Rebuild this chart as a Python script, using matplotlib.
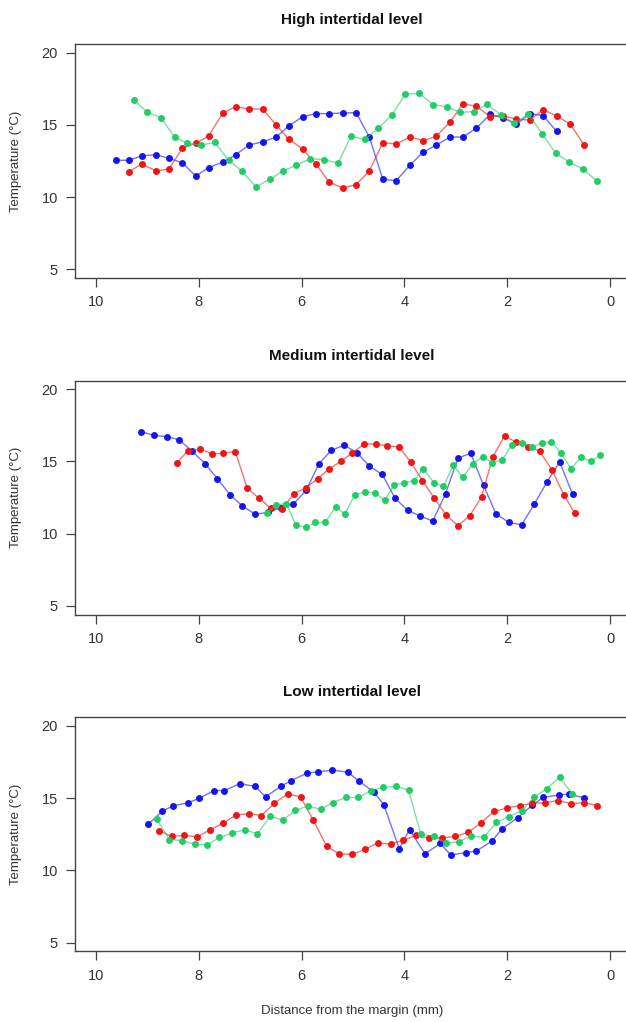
import matplotlib
matplotlib.use("Agg")
import matplotlib.pyplot as plt

plt.rcParams['font.family'] = ['Liberation Sans', 'DejaVu Sans']

# ---- High intertidal level ----
high_blue_x = [9.61, 9.36, 9.11, 8.83, 8.58, 8.32, 8.06, 7.81, 7.53, 7.28, 7.02, 6.76, 6.50, 6.25, 5.98, 5.72, 5.46,
               5.20, 4.94, 4.68, 4.42, 4.16, 3.89, 3.64, 3.38, 3.11, 2.86, 2.60, 2.33, 2.08, 1.82, 1.56, 1.30, 1.04]
high_blue_y = [12.55, 12.55, 12.85, 12.94, 12.68, 12.38, 11.46, 12.04, 12.43, 12.94, 13.61, 13.82, 14.14, 14.92, 15.57,
               15.78, 15.78, 15.82, 15.85, 14.14, 11.23, 11.14, 12.22, 13.10, 13.61, 14.16, 14.16, 14.78, 15.73, 15.48,
               15.04, 15.78, 15.64, 14.55]
high_red_x = [9.36, 9.11, 8.83, 8.58, 8.32, 8.06, 7.81, 7.53, 7.28, 7.02, 6.76, 6.50, 6.25, 5.98, 5.72, 5.46, 5.20,
              4.94, 4.68, 4.42, 4.16, 3.89, 3.64, 3.38, 3.11, 2.86, 2.60, 2.33, 2.08, 1.82, 1.56, 1.30, 1.04, 0.78, 0.51]
high_red_y = [11.76, 12.29, 11.81, 11.95, 13.38, 13.72, 14.23, 15.82, 16.26, 16.10, 16.10, 15.02, 14.02, 13.33, 12.29,
              11.02, 10.63, 10.86, 11.83, 13.77, 13.68, 14.16, 13.91, 14.21, 15.22, 16.47, 16.28, 15.57, 15.64, 15.38,
              15.34, 16.05, 15.61, 15.08, 13.63]
high_green_x = [9.26, 9.00, 8.74, 8.47, 8.22, 7.95, 7.69, 7.42, 7.16, 6.89, 6.62, 6.36, 6.10, 5.83, 5.56, 5.29, 5.04,
                4.77, 4.51, 4.24, 3.98, 3.71, 3.44, 3.18, 2.92, 2.65, 2.39, 2.12, 1.86, 1.59, 1.32, 1.06, 0.79, 0.53, 0.26]
high_green_y = [16.72, 15.87, 15.50, 14.16, 13.72, 13.61, 13.79, 12.55, 11.81, 10.70, 11.23, 11.81, 12.22, 12.66, 12.59,
                12.36, 14.21, 14.00, 14.76, 15.71, 17.14, 17.18, 16.40, 16.26, 15.87, 15.92, 16.42, 15.68, 15.13, 15.73,
                14.39, 13.05, 12.41, 11.95, 11.12]

# ---- Medium intertidal level ----
med_blue_x = [9.12, 8.87, 8.62, 8.38, 8.13, 7.88, 7.64, 7.39, 7.15, 6.90, 6.65, 6.41, 6.16, 5.91, 5.66, 5.42, 5.17,
              4.92, 4.68, 4.43, 4.18, 3.93, 3.70, 3.45, 3.20, 2.96, 2.71, 2.46, 2.22, 1.97, 1.72, 1.47, 1.22, 0.98, 0.73]
med_blue_y = [17.07, 16.80, 16.73, 16.50, 15.71, 14.86, 13.82, 12.69, 11.91, 11.35, 11.47, 11.81, 12.05, 13.01, 14.86,
              15.78, 16.13, 15.60, 14.67, 14.10, 12.44, 11.61, 11.24, 10.87, 12.76, 15.23, 15.57, 13.34, 11.38, 10.78,
              10.62, 12.07, 13.61, 14.97, 12.74]
med_red_x = [8.43, 8.21, 7.97, 7.74, 7.52, 7.29, 7.06, 6.83, 6.60, 6.38, 6.15, 5.92, 5.69, 5.47, 5.24, 5.01, 4.78,
             4.56, 4.33, 4.10, 3.88, 3.65, 3.42, 3.19, 2.96, 2.73, 2.50, 2.28, 2.05, 1.83, 1.59, 1.37, 1.13, 0.90, 0.68]
med_red_y = [14.88, 15.76, 15.85, 15.53, 15.57, 15.69, 13.17, 12.46, 11.77, 11.68, 12.78, 13.17, 13.80, 14.47, 15.00,
             15.60, 16.22, 16.20, 16.08, 16.01, 14.97, 13.68, 12.46, 11.31, 10.55, 11.24, 12.55, 15.32, 16.79, 16.33,
             16.03, 15.71, 14.42, 12.69, 11.40]
med_green_x = [6.68, 6.49, 6.30, 6.11, 5.92, 5.73, 5.54, 5.34, 5.16, 4.96, 4.77, 4.58, 4.38, 4.20, 4.00, 3.81, 3.63,
               3.43, 3.24, 3.05, 2.86, 2.67, 2.48, 2.29, 2.10, 1.90, 1.72, 1.52, 1.33, 1.14, 0.95, 0.76, 0.57, 0.37, 0.19]
med_green_y = [11.45, 11.98, 12.09, 10.59, 10.45, 10.78, 10.78, 11.86, 11.38, 12.69, 12.90, 12.83, 12.32, 13.38, 13.52,
               13.68, 14.51, 13.54, 13.27, 14.74, 13.91, 14.84, 15.32, 14.93, 15.11, 16.17, 16.31, 16.03, 16.26, 16.38,
               15.57, 14.49, 15.30, 15.02, 15.43]

# ---- Low intertidal level ----
low_blue_x = [8.99, 8.71, 8.50, 8.21, 8.00, 7.70, 7.50, 7.20, 6.90, 6.70, 6.40, 6.20, 5.90, 5.69, 5.40, 5.10, 4.89,
              4.59, 4.40, 4.10, 3.90, 3.60, 3.30, 3.10, 2.80, 2.60, 2.30, 2.10, 1.80, 1.51, 1.30, 1.00, 0.80, 0.50]
low_blue_y = [13.18, 14.10, 14.47, 14.68, 14.98, 15.53, 15.53, 16.01, 15.81, 15.09, 15.83, 16.22, 16.73, 16.82, 16.94,
              16.80, 16.20, 15.41, 14.54, 11.50, 12.83, 11.15, 11.87, 11.06, 11.24, 11.34, 12.03, 12.88, 13.64, 14.52,
              15.05, 15.23, 15.28, 15.02]
low_red_x = [8.78, 8.53, 8.28, 8.03, 7.78, 7.53, 7.28, 7.03, 6.78, 6.53, 6.27, 6.02, 5.77, 5.51, 5.27, 5.02, 4.77,
             4.52, 4.27, 4.02, 3.77, 3.52, 3.26, 3.01, 2.76, 2.51, 2.26, 2.01, 1.76, 1.51, 1.26, 1.01, 0.75, 0.50, 0.25]
low_red_y = [12.76, 12.35, 12.42, 12.33, 12.81, 13.27, 13.82, 13.94, 13.80, 14.65, 15.30, 15.09, 13.46, 11.66, 11.15,
             11.11, 11.45, 11.91, 11.82, 12.10, 12.42, 12.24, 12.26, 12.35, 12.63, 13.29, 14.08, 14.31, 14.49, 14.65,
             14.68, 14.84, 14.61, 14.70, 14.47]
low_green_x = [8.82, 8.57, 8.32, 8.08, 7.84, 7.60, 7.35, 7.10, 6.86, 6.61, 6.37, 6.12, 5.88, 5.63, 5.39, 5.14, 4.90,
               4.65, 4.41, 4.17, 3.92, 3.68, 3.43, 3.19, 2.94, 2.70, 2.46, 2.21, 1.97, 1.72, 1.47, 1.23, 0.98, 0.74]
low_green_y = [13.53, 12.14, 12.07, 11.80, 11.77, 12.28, 12.60, 12.81, 12.53, 13.76, 13.48, 14.15, 14.47, 14.22, 14.70,
               15.05, 15.05, 15.51, 15.76, 15.83, 15.55, 12.51, 12.37, 11.89, 11.98, 12.40, 12.28, 13.32, 13.73, 14.12,
               15.07, 15.67, 16.45, 15.32]

titles = ["High intertidal level", "Medium intertidal level", "Low intertidal level"]
panels = [
    [(high_blue_x, high_blue_y), (high_red_x, high_red_y), (high_green_x, high_green_y)],
    [(med_blue_x, med_blue_y), (med_red_x, med_red_y), (med_green_x, med_green_y)],
    [(low_blue_x, low_blue_y), (low_red_x, low_red_y), (low_green_x, low_green_y)],
]
colors = ["#1414f0", "#f01414", "#22cc66"]

W, H = 626, 1022
fig = plt.figure(figsize=(W / 100, H / 100), dpi=100)

ax_left = 75.4
ax_width = 555.2
tops = [44, 380.6, 717.3]
ax_h = 234
title_y = [20, 356, 692]
axis_grey = "#444444"
text_grey = "#333333"

for i in range(3):
    ax = fig.add_axes([ax_left / W, 1 - (tops[i] + ax_h) / H, ax_width / W, ax_h / H])
    for (xs, ys), c in zip(panels[i], colors):
        ax.plot(xs, ys, color=c, lw=1.0, alpha=0.6)
        ax.plot(xs, ys, ls="none", marker="o", ms=5.0, color=c, mec=c, mew=0)
    ax.set_xlim(10.4, -0.4)
    ax.set_ylim(4.4, 20.6)
    ax.set_xticks([10, 8, 6, 4, 2, 0])
    ax.set_yticks([5, 10, 15, 20])
    for sp in ax.spines.values():
        sp.set_color(axis_grey)
        sp.set_linewidth(1.0)
    ax.tick_params(direction="out", length=6.5, width=0.9, color=axis_grey,
                   labelsize=10.5, labelcolor=text_grey, pad=6)
    fig.text(352 / W, 1 - title_y[i] / H, titles[i], ha="center", va="center",
             fontsize=11, fontweight="bold", color="#111111")
    fig.text(16 / W, 1 - (tops[i] + ax_h / 2) / H, "Temperature (°C)", rotation=90,
             ha="center", va="center", fontsize=9.5, color=text_grey)

fig.text(352 / W, 1 - 1011 / H, "Distance from the margin (mm)", ha="center", va="center",
         fontsize=9.5, color=text_grey)

fig.savefig("out.png", dpi=100)
